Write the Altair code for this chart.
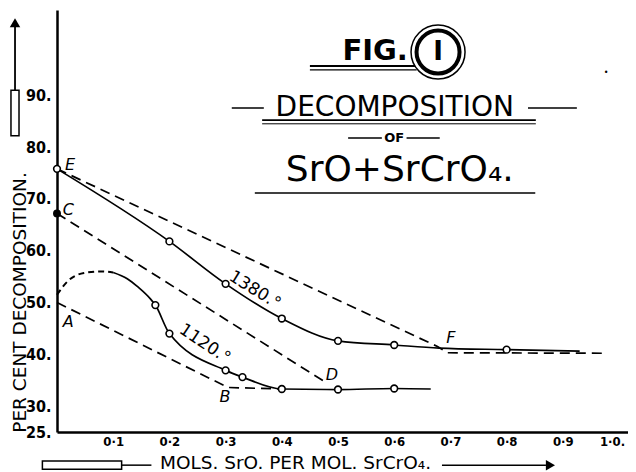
import altair as alt
import pandas as pd

# ---------------- data ----------------
# 1380 deg curve (solid line)
c1380_x = [0.0, 0.2, 0.3, 0.4, 0.5, 0.6, 0.68, 0.8, 0.93]
c1380_y = [75.8, 61.8, 53.6, 46.9, 42.6, 41.8, 41.2, 40.9, 40.6]
# observed points on 1380 curve
p1380_x = [0.0, 0.2, 0.3, 0.4, 0.5, 0.6, 0.8]
p1380_y = [75.8, 61.8, 53.6, 46.9, 42.6, 41.8, 40.9]
# 1120 deg curve: dashed extrapolated arc, then solid curve
a1120_x = [0.0, 0.018, 0.048, 0.078, 0.10]
a1120_y = [51.5, 54.0, 55.7, 56.0, 55.8]
c1120_x = [0.10, 0.125, 0.144, 0.167, 0.175, 0.2, 0.3, 0.33, 0.4, 0.5, 0.6, 0.665]
c1120_y = [55.8, 54.6, 53.0, 50.6, 49.5, 44.0, 36.9, 35.6, 33.3, 33.2, 33.4, 33.3]
p1120_x = [0.175, 0.2, 0.3, 0.33, 0.4, 0.5, 0.6]
p1120_y = [49.5, 44.0, 36.9, 35.6, 33.3, 33.2, 33.4]
# dashed theoretical lines E-F, C-D, A-B
ef_x = [0.0, 0.677, 0.695, 0.98]
ef_y = [75.8, 41.5, 40.3, 40.2]
cd_x = [0.0, 0.478]
cd_y = [67.2, 34.6]
ab_x = [0.0, 0.304, 0.4]
ab_y = [50.0, 33.6, 33.3]
c_point_x = [0.0]
c_point_y = [67.2]

# axis ticks
x_tick_values = [0.1, 0.2, 0.3, 0.4, 0.5, 0.6, 0.7, 0.8, 0.9, 1.0]
x_tick_labels = ["0·1", "0·2", "0·3", "0·4", "0·5", "0·6", "0·7", "0·8", "0·9", "1·0."]
y_tick_values = [25, 30, 40, 50, 60, 70, 80, 90]
y_tick_labels = ["25.", "30.", "40.", "50.", "60.", "70.", "80.", "90."]

# point labels
letters = ["E", "C", "A", "B", "D", "F"]
letters_x = [0.023, 0.020, 0.020, 0.299, 0.489, 0.701]
letters_y = [76.5, 67.9, 46.2, 31.8, 36.0, 43.1]

FONT = "DejaVu Sans"


def label_expr(values, labels):
    expr = "''"
    for v, l in reversed(list(zip(values, labels))):
        expr = f"abs(datum.value - {v}) < 0.001 ? '{l}' : ({expr})"
    return expr


xscale = alt.Scale(domain=[0, 1.016], nice=False, zero=False)
yscale = alt.Scale(domain=[25, 106.47], nice=False, zero=False)

xaxis = alt.Axis(
    values=x_tick_values, labelExpr=label_expr(x_tick_values, x_tick_labels),
    ticks=False, grid=False, domainColor="black", domainWidth=2.5,
    labelFont="DejaVu Sans Condensed", labelFontSize=13, labelFontWeight="bold",
    labelColor="black", labelPadding=3,
    labelOffset={"condition": {"test": "datum.value > 0.95", "value": -7}, "value": 0},
    title="MOLS. SrO. PER MOL. SrCrO₄.", titleFont=FONT, titleFontSize=18.5,
    titleFontWeight="normal", titleColor="black", titleX=238, titleY=36,
    titleBaseline="alphabetic", titleAlign="center", labelFlush=False,
)
yaxis = alt.Axis(
    values=y_tick_values, labelExpr=label_expr(y_tick_values, y_tick_labels),
    ticks=False, grid=False, domainColor="black", domainWidth=2.5,
    labelFont="DejaVu Sans Condensed", labelFontSize=16, labelFontWeight="bold",
    labelColor="black", labelPadding=6,
    title="PER CENT DECOMPOSITION.", titleFont=FONT, titleFontSize=18.5,
    titleFontWeight="normal", titleColor="black", titleAngle=270,
    titleX=-38, titleY=292, titleBaseline="middle", titleAlign="center",
    labelFlush=False,
)

X = alt.X("x:Q", scale=xscale, axis=xaxis)
Y = alt.Y("y:Q", scale=yscale, axis=yaxis)


def line(xs, ys, dash=None, interp="linear", width=1.7):
    df = pd.DataFrame({"x": xs, "y": ys, "o": list(range(len(xs)))})
    kw = dict(color="black", strokeWidth=width, interpolate=interp)
    if dash:
        kw["strokeDash"] = dash
    return alt.Chart(df).mark_line(**kw).encode(x=X, y=Y, order="o:Q")


def pts(xs, ys, filled=False, size=45):
    df = pd.DataFrame({"x": xs, "y": ys})
    return alt.Chart(df).mark_point(
        shape="circle", size=size, filled=True,
        fill="black" if filled else "white", stroke="black", strokeWidth=1.6,
        opacity=1,
    ).encode(x=X, y=Y)


def txt(x, y, s, **kw):
    df = pd.DataFrame({"x": [x], "y": [y], "t": [s]})
    base = dict(color="black", font=FONT)
    base.update(kw)
    return alt.Chart(df).mark_text(**base).encode(x=X, y=Y, text="t:N")


def seg(x1, y1, x2, y2, width=1.5, dash=None):
    df = pd.DataFrame({"x": [x1], "y": [y1], "x2": [x2], "y2": [y2]})
    kw = dict(color="black", strokeWidth=width)
    if dash:
        kw["strokeDash"] = dash
    return alt.Chart(df).mark_rule(**kw).encode(x=X, y=Y, x2="x2:Q", y2="y2:Q")


def box(x1, y1, x2, y2, width=1.5):
    df = pd.DataFrame({"x": [x1], "y": [y1], "x2": [x2], "y2": [y2]})
    return alt.Chart(df).mark_rect(
        fill="white", stroke="black", strokeWidth=width
    ).encode(x=X, y=Y, x2="x2:Q", y2="y2:Q")


layers = []
# curves
layers.append(line(ef_x, ef_y, dash=[10, 6]))
layers.append(line(cd_x, cd_y, dash=[10, 6]))
layers.append(line(ab_x, ab_y, dash=[10, 6]))
layers.append(line(a1120_x, a1120_y, dash=[6, 4], interp="monotone", width=2))
layers.append(line(c1120_x, c1120_y, interp="monotone"))
layers.append(line(c1380_x, c1380_y, interp="monotone"))
layers.append(pts(p1380_x, p1380_y))
layers.append(pts(p1120_x, p1120_y))
layers.append(pts(c_point_x, c_point_y, filled=True, size=40))

# letter labels
for s, lx, ly in zip(letters, letters_x, letters_y):
    layers.append(txt(lx, ly, s, fontSize=16, fontStyle="italic", align="center", baseline="middle"))

# curve labels
layers.append(txt(0.352, 52.4, "1380.°", fontSize=17, angle=32, align="center", baseline="middle"))
layers.append(txt(0.263, 42.0, "1120.°", fontSize=17, angle=34, align="center", baseline="middle"))

# title block
layers.append(txt(0.566, 98.55, "FIG.", fontSize=29, fontWeight="bold", align="center", baseline="middle"))
layers.append(seg(0.450, 95.66, 0.640, 95.66, width=2))
layers.append(seg(0.450, 94.9, 0.640, 94.9, width=1.2))
circ = pd.DataFrame({"x": [0.678], "y": [98.36]})
layers.append(alt.Chart(circ).mark_point(shape="circle", size=2916, filled=True, fill="white",
                                         stroke="black", strokeWidth=1.5, opacity=1).encode(x=X, y=Y))
layers.append(alt.Chart(circ).mark_point(shape="circle", size=1850, filled=False,
                                         stroke="black", strokeWidth=4, opacity=1).encode(x=X, y=Y))
layers.append(txt(0.678, 98.36, "I", fontSize=26, fontWeight="bold", align="center", baseline="middle"))
layers.append(txt(0.601, 87.55, "DECOMPOSITION", fontSize=28, align="center", baseline="middle"))
layers.append(seg(0.311, 87.55, 0.368, 87.55, width=1.5))
layers.append(seg(0.838, 87.55, 0.925, 87.55, width=1.5))
layers.append(seg(0.365, 85.2, 0.852, 85.2, width=1.6))
layers.append(seg(0.365, 84.5, 0.852, 84.5, width=1.0))
layers.append(txt(0.600, 81.76, "OF", fontSize=13, fontWeight="bold", align="center", baseline="middle"))
layers.append(seg(0.518, 81.76, 0.578, 81.76, width=1.5))
layers.append(seg(0.622, 81.76, 0.681, 81.76, width=1.5))
layers.append(txt(0.610, 75.58, "SrO+SrCrO₄.", fontSize=36, align="center", baseline="middle"))
layers.append(seg(0.352, 71.14, 0.851, 71.14, width=1.5))
layers.append(txt(0.977, 94.3, "•", fontSize=8, align="center", baseline="middle"))

# vertical arrow left of the y axis
layers.append(seg(-0.0747, 90.6, -0.0747, 104.5, width=1.8))
layers.append(alt.Chart(pd.DataFrame({"x": [-0.0747], "y": [104.0]})).mark_point(
    shape="triangle-up", size=110, filled=True, color="black", opacity=1).encode(x=X, y=Y))
layers.append(box(-0.0819, 90.97, -0.0676, 82.2, width=1.5))

# horizontal arrow under the x axis
layers.append(box(-0.026, 19.4, 0.115, 17.8, width=1.5))
layers.append(seg(0.115, 18.6, 0.168, 18.6, width=1.5))
layers.append(seg(0.685, 18.6, 0.87, 18.6, width=1.5))
layers.append(alt.Chart(pd.DataFrame({"x": [0.878], "y": [18.6]})).mark_point(
    shape="triangle-right", size=110, filled=True, color="black", opacity=1).encode(x=X, y=Y))

chart = alt.layer(*layers).properties(
    width=571, height=422,
    padding={"left": 49, "top": 2, "right": 0, "bottom": 40},
    autosize=alt.AutoSizeParams(type="none"),
    background="white",
).configure_view(stroke="transparent")

chart.save("out.html", embed_options={"renderer": "svg", "actions": False})
